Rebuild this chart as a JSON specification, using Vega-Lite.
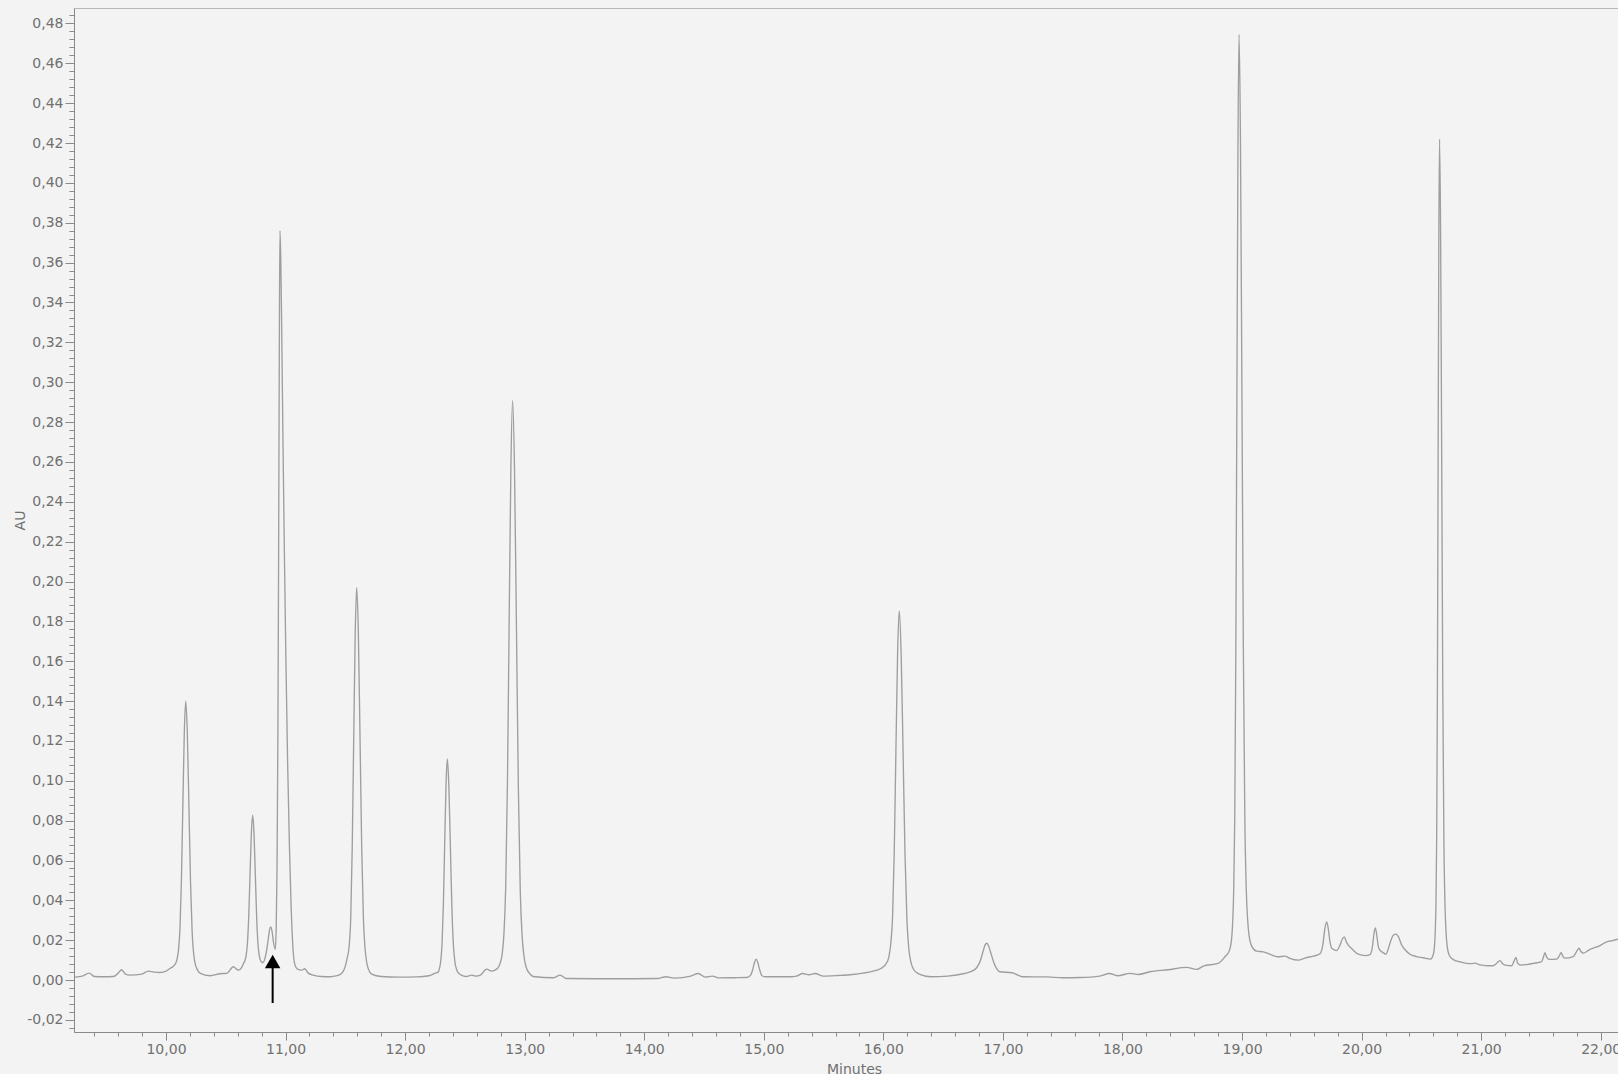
{
  "$schema": "https://vega.github.io/schema/vega-lite/v6.json",
  "width": 1544,
  "height": 1024,
  "autosize": {"type": "none"},
  "padding": {"left": 74, "top": 8, "right": 0, "bottom": 42},
  "background": "#f3f3f3",
  "config": {
    "view": {"stroke": "#b8b8b8", "strokeWidth": 1, "fill": "#f3f3f3"},
    "axis": {
      "domainColor": "#8a8a8a", "tickColor": "#8a8a8a", "labelColor": "#707070",
      "labelFont": "DejaVu Sans", "labelFontSize": 14, "titleFont": "DejaVu Sans",
      "titleFontSize": 14, "titleColor": "#707070", "titleFontWeight": "normal", "grid": false
    }
  },
  "layer": [
    {
      "data": {"values": [
{"t":9.24,"v":0.0015},{"t":9.30,"v":0.0020},{"t":9.358,"v":0.0035},{"t":9.40,"v":0.0018},{"t":9.48,"v":0.0017},{"t":9.56,"v":0.0018},{"t":9.60,"v":0.0035},{"t":9.629,"v":0.0052},{"t":9.66,"v":0.003},{"t":9.70,"v":0.0025},{"t":9.797,"v":0.003},{"t":9.852,"v":0.0045},{"t":9.90,"v":0.0040},{"t":9.95,"v":0.0038},{"t":10.00,"v":0.0045},{"t":10.033,"v":0.0058},{"t":10.06,"v":0.0068},{"t":10.081,"v":0.0084},{"t":10.093,"v":0.0107},{"t":10.105,"v":0.0154},{"t":10.117,"v":0.0261},{"t":10.129,"v":0.0502},{"t":10.141,"v":0.0877},{"t":10.153,"v":0.1239},{"t":10.165,"v":0.140},{"t":10.1785,"v":0.1236},{"t":10.192,"v":0.0866},{"t":10.2055,"v":0.0482},{"t":10.219,"v":0.0236},{"t":10.2325,"v":0.0126},{"t":10.246,"v":0.0078},{"t":10.2595,"v":0.0055},{"t":10.284,"v":0.0035},{"t":10.368,"v":0.0022},{"t":10.452,"v":0.0032},{"t":10.508,"v":0.0034},{"t":10.563,"v":0.0067},{"t":10.605,"v":0.005},{"t":10.635,"v":0.0065},{"t":10.648,"v":0.0084},{"t":10.659,"v":0.0096},{"t":10.67,"v":0.0123},{"t":10.681,"v":0.0184},{"t":10.692,"v":0.032},{"t":10.703,"v":0.0532},{"t":10.714,"v":0.0736},{"t":10.725,"v":0.0827},{"t":10.736,"v":0.0736},{"t":10.747,"v":0.0532},{"t":10.758,"v":0.032},{"t":10.769,"v":0.0184},{"t":10.78,"v":0.0123},{"t":10.793,"v":0.0095},{"t":10.809,"v":0.0087},{"t":10.826,"v":0.0105},{"t":10.842,"v":0.015},{"t":10.855,"v":0.0205},{"t":10.866,"v":0.0252},{"t":10.876,"v":0.0267},{"t":10.887,"v":0.0245},{"t":10.899,"v":0.019},{"t":10.914,"v":0.0154},{"t":10.922,"v":0.027},{"t":10.929,"v":0.058},{"t":10.936,"v":0.125},{"t":10.942,"v":0.215},{"t":10.948,"v":0.320},{"t":10.953,"v":0.376},{"t":10.960,"v":0.362},{"t":10.968,"v":0.325},{"t":10.978,"v":0.272},{"t":10.99,"v":0.215},{"t":11.003,"v":0.16},{"t":11.017,"v":0.11},{"t":11.032,"v":0.068},{"t":11.047,"v":0.036},{"t":11.062,"v":0.016},{"t":11.079,"v":0.0075},{"t":11.10,"v":0.0055},{"t":11.135,"v":0.005},{"t":11.16,"v":0.0057},{"t":11.19,"v":0.0035},{"t":11.232,"v":0.0025},{"t":11.30,"v":0.0018},{"t":11.372,"v":0.0017},{"t":11.43,"v":0.0022},{"t":11.47,"v":0.0034},{"t":11.50,"v":0.007},{"t":11.515,"v":0.011},{"t":11.531,"v":0.0165},{"t":11.545,"v":0.031},{"t":11.5575,"v":0.066},{"t":11.57,"v":0.121},{"t":11.5825,"v":0.1736},{"t":11.595,"v":0.197},{"t":11.609,"v":0.1736},{"t":11.623,"v":0.121},{"t":11.637,"v":0.066},{"t":11.651,"v":0.031},{"t":11.665,"v":0.0157},{"t":11.679,"v":0.0088},{"t":11.693,"v":0.0055},{"t":11.72,"v":0.003},{"t":11.80,"v":0.0018},{"t":11.95,"v":0.0015},{"t":12.10,"v":0.0016},{"t":12.20,"v":0.0022},{"t":12.25,"v":0.0035},{"t":12.276,"v":0.004},{"t":12.287,"v":0.0058},{"t":12.298,"v":0.0096},{"t":12.309,"v":0.0184},{"t":12.32,"v":0.038},{"t":12.331,"v":0.0685},{"t":12.342,"v":0.0979},{"t":12.353,"v":0.111},{"t":12.3655,"v":0.0979},{"t":12.378,"v":0.0685},{"t":12.3905,"v":0.038},{"t":12.403,"v":0.0184},{"t":12.4155,"v":0.0096},{"t":12.428,"v":0.0058},{"t":12.44,"v":0.004},{"t":12.47,"v":0.0025},{"t":12.51,"v":0.0018},{"t":12.557,"v":0.0025},{"t":12.59,"v":0.002},{"t":12.63,"v":0.0025},{"t":12.682,"v":0.0055},{"t":12.72,"v":0.0045},{"t":12.766,"v":0.0055},{"t":12.7975,"v":0.009},{"t":12.812,"v":0.0131},{"t":12.8265,"v":0.0232},{"t":12.841,"v":0.0462},{"t":12.8555,"v":0.098},{"t":12.87,"v":0.1787},{"t":12.8845,"v":0.2564},{"t":12.899,"v":0.2907},{"t":12.915,"v":0.2558},{"t":12.931,"v":0.1778},{"t":12.947,"v":0.0969},{"t":12.963,"v":0.0449},{"t":12.979,"v":0.0217},{"t":12.995,"v":0.0116},{"t":13.011,"v":0.0067},{"t":13.043,"v":0.0032},{"t":13.07,"v":0.0018},{"t":13.244,"v":0.0012},{"t":13.296,"v":0.0025},{"t":13.348,"v":0.0008},{"t":13.6,"v":0.0007},{"t":13.9,"v":0.0007},{"t":14.111,"v":0.0008},{"t":14.18,"v":0.0017},{"t":14.25,"v":0.001},{"t":14.389,"v":0.002},{"t":14.451,"v":0.0033},{"t":14.51,"v":0.0015},{"t":14.569,"v":0.002},{"t":14.631,"v":0.0011},{"t":14.75,"v":0.0012},{"t":14.857,"v":0.0013},{"t":14.89,"v":0.0025},{"t":14.908,"v":0.0055},{"t":14.924,"v":0.0092},{"t":14.936,"v":0.0105},{"t":14.948,"v":0.0092},{"t":14.964,"v":0.0055},{"t":14.985,"v":0.0022},{"t":15.013,"v":0.0017},{"t":15.221,"v":0.0017},{"t":15.273,"v":0.002},{"t":15.325,"v":0.0033},{"t":15.377,"v":0.0027},{"t":15.429,"v":0.0033},{"t":15.498,"v":0.002},{"t":15.62,"v":0.0023},{"t":15.741,"v":0.0028},{"t":15.83,"v":0.0035},{"t":15.914,"v":0.0045},{"t":15.98,"v":0.0058},{"t":16.035,"v":0.0095},{"t":16.049,"v":0.0125},{"t":16.063,"v":0.019},{"t":16.077,"v":0.0317},{"t":16.091,"v":0.0642},{"t":16.105,"v":0.1149},{"t":16.119,"v":0.1638},{"t":16.133,"v":0.1852},{"t":16.149,"v":0.1632},{"t":16.165,"v":0.114},{"t":16.181,"v":0.0631},{"t":16.197,"v":0.0303},{"t":16.213,"v":0.0157},{"t":16.229,"v":0.0094},{"t":16.245,"v":0.0063},{"t":16.277,"v":0.0038},{"t":16.31,"v":0.0028},{"t":16.40,"v":0.0017},{"t":16.539,"v":0.002},{"t":16.677,"v":0.0033},{"t":16.74,"v":0.0045},{"t":16.78,"v":0.0062},{"t":16.808,"v":0.0092},{"t":16.833,"v":0.0142},{"t":16.851,"v":0.0177},{"t":16.865,"v":0.0185},{"t":16.879,"v":0.0174},{"t":16.897,"v":0.014},{"t":16.92,"v":0.0095},{"t":16.945,"v":0.006},{"t":16.972,"v":0.0042},{"t":17.076,"v":0.0037},{"t":17.163,"v":0.0017},{"t":17.371,"v":0.0016},{"t":17.50,"v":0.0012},{"t":17.648,"v":0.0013},{"t":17.81,"v":0.0020},{"t":17.891,"v":0.0033},{"t":17.96,"v":0.0022},{"t":18.065,"v":0.0034},{"t":18.13,"v":0.0028},{"t":18.23,"v":0.0042},{"t":18.38,"v":0.0052},{"t":18.537,"v":0.0064},{"t":18.62,"v":0.0054},{"t":18.676,"v":0.007},{"t":18.80,"v":0.0084},{"t":18.857,"v":0.0117},{"t":18.894,"v":0.0148},{"t":18.912,"v":0.0203},{"t":18.921,"v":0.0282},{"t":18.93,"v":0.0444},{"t":18.939,"v":0.0814},{"t":18.948,"v":0.1646},{"t":18.957,"v":0.2941},{"t":18.966,"v":0.419},{"t":18.975,"v":0.4745},{"t":18.987,"v":0.4192},{"t":18.999,"v":0.2949},{"t":19.011,"v":0.166},{"t":19.023,"v":0.0831},{"t":19.035,"v":0.0462},{"t":19.047,"v":0.0301},{"t":19.059,"v":0.0223},{"t":19.083,"v":0.0168},{"t":19.123,"v":0.0145},{"t":19.178,"v":0.0142},{"t":19.23,"v":0.013},{"t":19.30,"v":0.0117},{"t":19.359,"v":0.012},{"t":19.40,"v":0.0109},{"t":19.471,"v":0.0100},{"t":19.53,"v":0.0112},{"t":19.596,"v":0.012},{"t":19.652,"v":0.0132},{"t":19.675,"v":0.0175},{"t":19.693,"v":0.026},{"t":19.708,"v":0.0292},{"t":19.722,"v":0.0255},{"t":19.736,"v":0.019},{"t":19.752,"v":0.0158},{"t":19.79,"v":0.0148},{"t":19.815,"v":0.017},{"t":19.838,"v":0.0205},{"t":19.855,"v":0.0217},{"t":19.87,"v":0.0195},{"t":19.889,"v":0.0176},{"t":19.91,"v":0.0162},{"t":19.93,"v":0.015},{"t":19.973,"v":0.013},{"t":20.03,"v":0.0123},{"t":20.07,"v":0.0128},{"t":20.09,"v":0.0165},{"t":20.104,"v":0.0235},{"t":20.115,"v":0.0262},{"t":20.127,"v":0.0225},{"t":20.14,"v":0.0168},{"t":20.154,"v":0.015},{"t":20.18,"v":0.0138},{"t":20.204,"v":0.013},{"t":20.222,"v":0.0155},{"t":20.24,"v":0.019},{"t":20.265,"v":0.0225},{"t":20.288,"v":0.0231},{"t":20.31,"v":0.0215},{"t":20.335,"v":0.0176},{"t":20.36,"v":0.0155},{"t":20.405,"v":0.013},{"t":20.46,"v":0.0118},{"t":20.516,"v":0.0112},{"t":20.575,"v":0.0105},{"t":20.598,"v":0.0125},{"t":20.61,"v":0.0174},{"t":20.616,"v":0.0244},{"t":20.622,"v":0.0388},{"t":20.628,"v":0.0718},{"t":20.634,"v":0.146},{"t":20.64,"v":0.2613},{"t":20.646,"v":0.3726},{"t":20.652,"v":0.422},{"t":20.661,"v":0.3726},{"t":20.67,"v":0.2613},{"t":20.679,"v":0.146},{"t":20.688,"v":0.0718},{"t":20.697,"v":0.0388},{"t":20.706,"v":0.0244},{"t":20.715,"v":0.0174},{"t":20.733,"v":0.0125},{"t":20.767,"v":0.0103},{"t":20.82,"v":0.0092},{"t":20.879,"v":0.0084},{"t":20.92,"v":0.0083},{"t":20.947,"v":0.0085},{"t":20.99,"v":0.0076},{"t":21.05,"v":0.0072},{"t":21.10,"v":0.0072},{"t":21.13,"v":0.0085},{"t":21.157,"v":0.0098},{"t":21.18,"v":0.0082},{"t":21.21,"v":0.0074},{"t":21.255,"v":0.0072},{"t":21.275,"v":0.0095},{"t":21.291,"v":0.0114},{"t":21.305,"v":0.0085},{"t":21.33,"v":0.0075},{"t":21.38,"v":0.0078},{"t":21.436,"v":0.0084},{"t":21.506,"v":0.0093},{"t":21.522,"v":0.0118},{"t":21.534,"v":0.0137},{"t":21.548,"v":0.0115},{"t":21.57,"v":0.0104},{"t":21.632,"v":0.0105},{"t":21.652,"v":0.012},{"t":21.668,"v":0.0137},{"t":21.685,"v":0.0118},{"t":21.70,"v":0.011},{"t":21.77,"v":0.0118},{"t":21.80,"v":0.0145},{"t":21.818,"v":0.016},{"t":21.836,"v":0.0142},{"t":21.854,"v":0.0135},{"t":21.90,"v":0.015},{"t":21.938,"v":0.016},{"t":21.99,"v":0.0172},{"t":22.05,"v":0.0192},{"t":22.10,"v":0.0198},{"t":22.145,"v":0.0205}
      ]},
      "mark": {"type": "line", "color": "#9e9e9e", "strokeWidth": 1.35, "interpolate": "monotone", "clip": true},
      "encoding": {
        "x": {
          "field": "t", "type": "quantitative", "title": "Minutes",
          "scale": {"domain": [9.2305, 22.1445], "nice": false, "zero": false},
          "axis": {
            "values": [9.4,9.6,9.8,10,10.2,10.4,10.6,10.8,11,11.2,11.4,11.6,11.8,12,12.2,12.4,12.6,12.8,13,13.2,13.4,13.6,13.8,14,14.2,14.4,14.6,14.8,15,15.2,15.4,15.6,15.8,16,16.2,16.4,16.6,16.8,17,17.2,17.4,17.6,17.8,18,18.2,18.4,18.6,18.8,19,19.2,19.4,19.6,19.8,20,20.2,20.4,20.6,20.8,21,21.2,21.4,21.6,21.8,22],
            "tickCount": 500,
            "labelExpr": "abs(datum.value - round(datum.value)) < 0.001 ? replace(format(datum.value, '.2f'), '.', ',') : ''",
            "tickSize": {"condition": {"test": "abs(datum.value - round(datum.value)) < 0.001", "value": 8}, "value": 4},
            "labelOverlap": false, "labelFlush": false, "labelPadding": 2,
            "titlePadding": 6, "titleX": 780
          }
        },
        "y": {
          "field": "v", "type": "quantitative", "title": "AU",
          "scale": {"domain": [-0.02604, 0.48776], "nice": false, "zero": false},
          "axis": {
            "values": [-0.024,-0.02,-0.016,-0.012,-0.008,-0.004,0,0.004,0.008,0.012,0.016,0.02,0.024,0.028,0.032,0.036,0.04,0.044,0.048,0.052,0.056,0.06,0.064,0.068,0.072,0.076,0.08,0.084,0.088,0.092,0.096,0.1,0.104,0.108,0.112,0.116,0.12,0.124,0.128,0.132,0.136,0.14,0.144,0.148,0.152,0.156,0.16,0.164,0.168,0.172,0.176,0.18,0.184,0.188,0.192,0.196,0.2,0.204,0.208,0.212,0.216,0.22,0.224,0.228,0.232,0.236,0.24,0.244,0.248,0.252,0.256,0.26,0.264,0.268,0.272,0.276,0.28,0.284,0.288,0.292,0.296,0.3,0.304,0.308,0.312,0.316,0.32,0.324,0.328,0.332,0.336,0.34,0.344,0.348,0.352,0.356,0.36,0.364,0.368,0.372,0.376,0.38,0.384,0.388,0.392,0.396,0.4,0.404,0.408,0.412,0.416,0.42,0.424,0.428,0.432,0.436,0.44,0.444,0.448,0.452,0.456,0.46,0.464,0.468,0.472,0.476,0.48,0.484],
            "tickCount": 500,
            "labelExpr": "abs(datum.value*50 - round(datum.value*50)) < 0.001 ? replace(replace(format(datum.value, '.2f'), '.', ','), '−', '-') : ''",
            "tickSize": {"condition": {"test": "abs(datum.value*50 - round(datum.value*50)) < 0.001", "value": 9}, "value": 5},
            "labelOverlap": false, "labelFlush": false, "labelPadding": 2,
            "titleX": -47
          }
        }
      }
    },
    {
      "data": {"values": [{"t": 10.892, "v": -0.0115, "v2": 0.0093}]},
      "layer": [
        {
          "mark": {"type": "rule", "color": "#000000", "strokeWidth": 2},
          "encoding": {
            "x": {"field": "t", "type": "quantitative", "title": "Minutes"},
            "y": {"field": "v", "type": "quantitative", "title": "AU"},
            "y2": {"field": "v2"}
          }
        },
        {
          "mark": {"type": "point", "shape": "triangle-up", "filled": true, "color": "#000000", "opacity": 1, "size": 240},
          "encoding": {
            "x": {"field": "t", "type": "quantitative", "title": "Minutes"},
            "y": {"field": "v2", "type": "quantitative", "title": "AU"}
          }
        }
      ]
    }
  ]
}
